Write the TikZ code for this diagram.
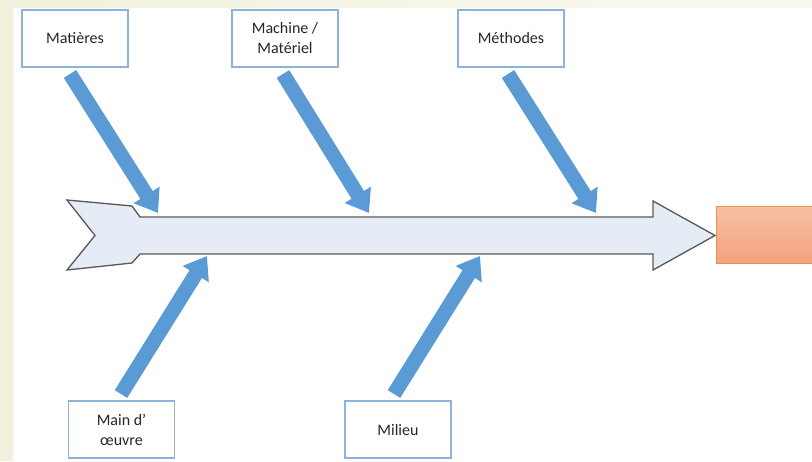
\documentclass[tikz,border=0pt]{standalone}
\usepackage{fontspec}
\setmainfont{Carlito}
\usetikzlibrary{arrows.meta}
\definecolor{beige}{HTML}{F2F0DC}
\definecolor{beigelight}{HTML}{FAF9F0}
\definecolor{boxline}{HTML}{8DB3DB}
\definecolor{bluearr}{HTML}{5B9BD5}
\definecolor{spinefill}{HTML}{E6ECF6}
\definecolor{spineline}{HTML}{5A5A5A}
\definecolor{orangetop}{HTML}{F6C0A3}
\definecolor{orangebot}{HTML}{F3A27B}
\definecolor{orangeline}{HTML}{EE8D58}
\definecolor{txt}{HTML}{262626}
\tikzset{
  cbox/.style={draw=boxline, line width=1.1pt, fill=white, minimum width=79.5pt,
    minimum height=42.75pt, align=center, text=txt, inner sep=2pt,
    font=\fontsize{12}{15}\selectfont},
  bluearrow/.style={draw=bluearr, line width=11pt,
    -{Triangle[width=22pt,length=16pt]}},
  spine/.style={draw=spineline, line width=1pt, fill=spinefill, line join=miter},
  effectbox/.style={draw=orangeline, line width=0.9pt, top color=orangetop,
    bottom color=orangebot, minimum width=90pt, minimum height=42.75pt,
    anchor=north west}
}
\begin{document}
\begin{tikzpicture}[x=0.75pt,y=-0.75pt]
\useasboundingbox (0,0) rectangle (812,461);
\clip (0,0) rectangle (812,461);
% background
\fill[beige] (0,0) rectangle (812,461);
\shade[left color=beige, right color=beigelight] (0,0) rectangle (812,8);
\fill[white] (13,8) rectangle (812,461);
% spine
\draw[spine] (67,200) -- (132,206) -- (140,217) -- (653,217) -- (653,201)
  -- (715,235.5) -- (653,270) -- (653,254) -- (140,254) -- (132,263)
  -- (67,270) -- (95,235.5) -- cycle;
% effect box
\node[effectbox] (eff) at (716,206) {};
% cause boxes
\node[cbox] (mat) at (75,38.5) {Matières};
\node[cbox] (mach) at (285,38.5) {Machine /\\Matériel};
\node[cbox] (meth) at (511,38.5) {Méthodes};
\node[cbox] (main) at (121.5,429.5) {Main d’\\œuvre};
\node[cbox] (mil) at (398,429.5) {Milieu};
% connector end points
\coordinate (s1) at (70,74);
\coordinate (e1) at (158,213);
\coordinate (s2) at (283,74);
\coordinate (e2) at (369,213);
\coordinate (s3) at (508,74);
\coordinate (e3) at (596,213);
\coordinate (s4) at (121,394);
\coordinate (e4) at (207,256);
\coordinate (s5) at (394,394);
\coordinate (e5) at (480,256);
% blue arrows
\draw[bluearrow] (s1) -- (e1);
\draw[bluearrow] (s2) -- (e2);
\draw[bluearrow] (s3) -- (e3);
\draw[bluearrow] (s4) -- (e4);
\draw[bluearrow] (s5) -- (e5);
\end{tikzpicture}
\end{document}
